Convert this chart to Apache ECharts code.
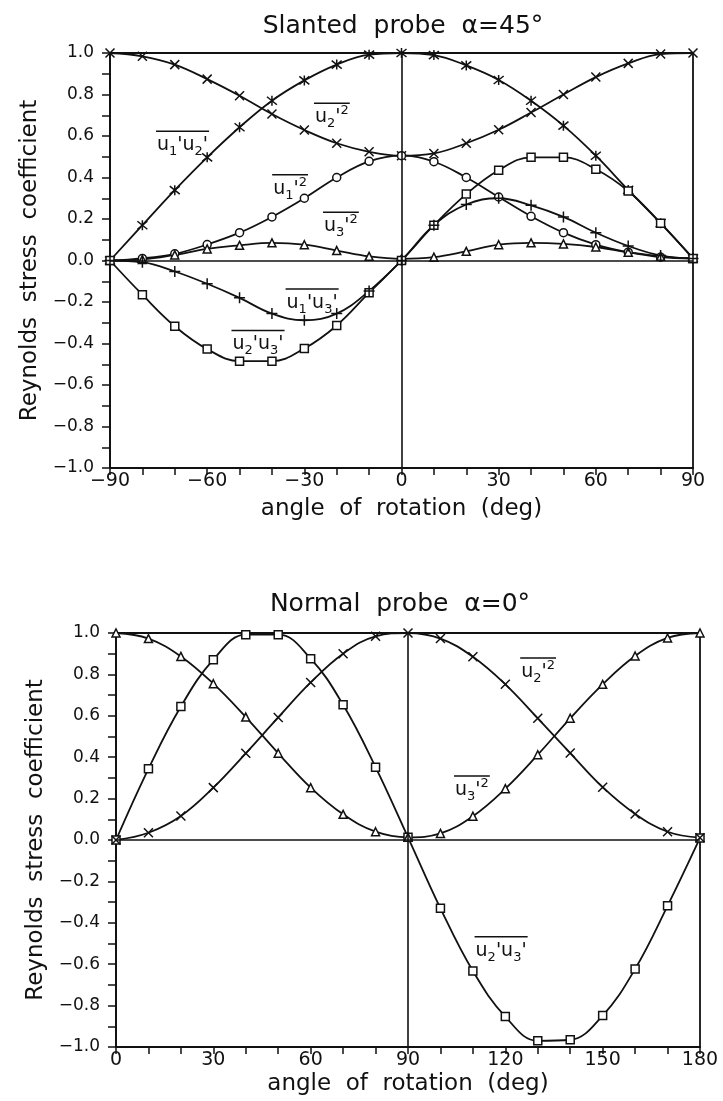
<!DOCTYPE html>
<html><head><meta charset="utf-8">
<script src="https://cdn.jsdelivr.net/npm/echarts@6/dist/echarts.min.js"></script>
<style>html,body{margin:0;padding:0;background:#fff}#c{width:723px;height:1101px}</style>
</head><body><div id="c"></div>
<script>
// ---------- data ----------
const topAngles = [-90,-80,-70,-60,-50,-40,-30,-20,-10,0,10,20,30,40,50,60,70,80,90];
const topCross    = [1.0,0.984,0.944,0.874,0.794,0.706,0.629,0.565,0.524,0.505,0.516,0.565,0.63,0.713,0.80,0.884,0.95,0.995,1.0];
const topStar     = [0.0,0.17,0.339,0.497,0.642,0.77,0.868,0.944,0.992,1.0,0.99,0.94,0.87,0.77,0.65,0.505,0.34,0.18,0.01];
const topCircle   = [0.0,0.01,0.032,0.077,0.134,0.21,0.30,0.40,0.478,0.505,0.476,0.40,0.306,0.213,0.134,0.076,0.04,0.016,0.01];
const topTriangle = [0.0,0.005,0.027,0.056,0.073,0.085,0.076,0.048,0.02,0.008,0.016,0.044,0.076,0.085,0.08,0.065,0.04,0.02,0.01];
const topSquare   = [0.0,-0.165,-0.317,-0.427,-0.485,-0.485,-0.424,-0.313,-0.155,0.0,0.17,0.32,0.435,0.497,0.497,0.44,0.335,0.18,0.01];
const topPlus     = [0.0,-0.008,-0.053,-0.112,-0.18,-0.256,-0.288,-0.256,-0.147,0.0,0.17,0.27,0.30,0.266,0.21,0.134,0.07,0.024,0.01];

const bottomAngles = [0,10,20,30,40,50,60,70,80,90,100,110,120,130,140,150,160,170,180];
const bottomSquare   = [0.0,0.344,0.645,0.871,0.992,0.992,0.876,0.653,0.352,0.013,-0.33,-0.633,-0.853,-0.97,-0.965,-0.848,-0.623,-0.318,0.01];
const bottomTriangle = [1.0,0.973,0.887,0.755,0.594,0.419,0.253,0.124,0.04,0.013,0.032,0.115,0.248,0.412,0.588,0.752,0.889,0.976,1.0];
const bottomCross    = [0.0,0.035,0.116,0.253,0.419,0.592,0.761,0.9,0.984,1.0,0.973,0.885,0.752,0.588,0.42,0.255,0.126,0.04,0.011];

const titles = ['Slanted  probe  α=45°', 'Normal  probe  α=0°'];
const xName = 'angle  of  rotation  (deg)';
const yName = 'Reynolds  stress  coefficient';

// curve labels: "_" = subscript, "^" = superscript; anchor in data coordinates
const topLabels = [
  {text: "u_1'u_2'", x: -67.6, y: 0.57},
  {text: "u_2'^2",   x: -21.5, y: 0.705},
  {text: "u_1'^2",   x: -34.4, y: 0.36},
  {text: "u_3'^2",   x: -18.7, y: 0.18},
  {text: "u_1'u_3'", x: -27.6, y: -0.19},
  {text: "u_2'u_3'", x: -44.3, y: -0.39}
];
const bottomLabels = [
  {text: "u_2'^2",   x: 130.1, y: 0.826},
  {text: "u_3'^2",   x: 109.7, y: 0.256},
  {text: "u_2'u_3'", x: 118.7, y: -0.52}
];

// ---------- styling ----------
const FONT = '"DejaVu Sans", "Liberation Sans", sans-serif';
const INK = '#111';
const SYM = {
  cross: 'path://M0,0L10,10M10,0L0,10',
  star:  'path://M1,1L9,9M9,1L1,9M5,0L5,10',
  plus:  'path://M5,0L5,10M0,5L10,5',
  circle: 'circle', rect: 'rect', triangle: 'triangle'
};
function minus(s){ return s.replace('-', '\u2212'); }

function mk(gi, xs, ys, sym, size, extra) {
  return Object.assign({
    type: 'line', xAxisIndex: gi, yAxisIndex: gi,
    data: xs.map((x, i) => [x, ys[i]]),
    smooth: 0.4, symbol: SYM[sym], symbolSize: size, showSymbol: true,
    lineStyle: {color: INK, width: 1.8},
    itemStyle: {color: '#fff', borderColor: INK, borderWidth: 1.5},
    emphasis: {disabled: true}, animation: false, z: 3
  }, extra || {});
}
const zeroLines = (xv) => ({
  silent: true, symbol: 'none', animation: false,
  label: {show: false},
  lineStyle: {color: INK, type: 'solid', width: 1.6},
  data: [{xAxis: xv}, {yAxis: 0}]
});

function xAxis(gi, min, max, gap) {
  return {
    type: 'value', gridIndex: gi, min: min, max: max, interval: 30,
    name: xName, nameLocation: 'middle', nameGap: gap,
    nameTextStyle: {fontFamily: FONT, fontSize: 23, color: INK},
    axisLine: {onZero: false, lineStyle: {color: INK, width: 1.8}},
    axisTick: {inside: false, length: 7, lineStyle: {color: INK, width: 1.5}},
    minorTick: {show: true, splitNumber: 3, length: 7, lineStyle: {color: INK, width: 1.5}},
    axisLabel: {margin: 4, fontFamily: FONT, fontSize: 19, color: INK, formatter: v => minus(String(v))},
    splitLine: {show: false}, minorSplitLine: {show: false}
  };
}
function yAxis(gi) {
  return {
    type: 'value', gridIndex: gi, min: -1, max: 1, interval: 0.2,
    name: yName, nameLocation: 'middle', nameGap: 67,
    nameTextStyle: {fontFamily: FONT, fontSize: 23, color: INK},
    axisLine: {onZero: false, lineStyle: {color: INK, width: 1.8}},
    axisTick: {inside: false, length: 8, lineStyle: {color: INK, width: 1.5}},
    minorTick: {show: true, splitNumber: 2, length: 8, lineStyle: {color: INK, width: 1.5}},
    axisLabel: {margin: 16, fontFamily: FONT, fontSize: 17, color: INK, formatter: v => minus(v.toFixed(1))},
    splitLine: {show: false}, minorSplitLine: {show: false}
  };
}

const chart = echarts.init(document.getElementById('c'), null, {renderer: 'canvas'});
chart.setOption({
  backgroundColor: '#fff',
  animation: false,
  title: [
    {text: titles[0], left: 403, top: 14, textAlign: 'center', padding: 0,
     textStyle: {fontFamily: FONT, fontSize: 25, fontWeight: 'normal', color: INK}},
    {text: titles[1], left: 400, top: 592, textAlign: 'center', padding: 0,
     textStyle: {fontFamily: FONT, fontSize: 25, fontWeight: 'normal', color: INK}}
  ],
  grid: [
    {left: 110, right: 30, top: 53, height: 415, show: true, borderColor: INK, borderWidth: 1.8, backgroundColor: 'transparent'},
    {left: 116, right: 23, top: 633, height: 414, show: true, borderColor: INK, borderWidth: 1.8, backgroundColor: 'transparent'}
  ],
  xAxis: [xAxis(0, -90, 90, 30), xAxis(1, 0, 180, 26)],
  yAxis: [yAxis(0), yAxis(1)],
  series: [
    mk(0, topAngles, topCross, 'cross', 9, {markLine: zeroLines(0)}),
    mk(0, topAngles, topStar, 'star', 10),
    mk(0, topAngles, topCircle, 'circle', 8),
    mk(0, topAngles, topTriangle, 'triangle', 8),
    mk(0, topAngles, topSquare, 'rect', 8),
    mk(0, topAngles, topPlus, 'plus', 11),
    mk(1, bottomAngles, bottomSquare, 'rect', 8, {markLine: zeroLines(90)}),
    mk(1, bottomAngles, bottomTriangle, 'triangle', 8),
    mk(1, bottomAngles, bottomCross, 'cross', 9)
  ]
});

// curve labels with overline, placed through the chart's coordinate system
const BASE = 19, SMALL = 13;
const ctx = document.createElement('canvas').getContext('2d');
function parseLabel(s) {
  let out = '', w = 0, buf = '';
  const flush = () => { if (buf) { out += '{b|' + buf + '}'; ctx.font = BASE + 'px "DejaVu Sans"'; w += ctx.measureText(buf).width; buf = ''; } };
  for (let i = 0; i < s.length; i++) {
    const c = s[i];
    if (c === '_' || c === '^') {
      flush();
      const ch = s[++i];
      out += '{' + (c === '_' ? 'sub' : 'sup') + '|' + ch + '}';
      ctx.font = SMALL + 'px "DejaVu Sans"'; w += ctx.measureText(ch).width;
    } else buf += c;
  }
  flush();
  return {rich: out, width: w};
}
const richStyles = {
  b:   {fontFamily: FONT, fontSize: BASE, lineHeight: 26, fill: INK, verticalAlign: 'middle'},
  sub: {fontFamily: FONT, fontSize: SMALL, lineHeight: 14, fill: INK, verticalAlign: 'bottom'},
  sup: {fontFamily: FONT, fontSize: SMALL, lineHeight: 14, fill: INK, verticalAlign: 'top'}
};
const graphics = [];
function addLabels(list, gi) {
  list.forEach(l => {
    const p = chart.convertToPixel({gridIndex: gi}, [l.x, l.y]);
    const t = parseLabel(l.text);
    graphics.push({type: 'text', x: p[0], y: p[1] + 3, z: 10,
      style: {text: t.rich, rich: richStyles, fill: INK, align: 'center', verticalAlign: 'middle'}});
    graphics.push({type: 'line', z: 10,
      shape: {x1: p[0] - t.width / 2 - 1, y1: p[1] - 11, x2: p[0] + t.width / 2 + 1, y2: p[1] - 11},
      style: {stroke: INK, lineWidth: 1.5}});
  });
}
addLabels(topLabels, 0);
addLabels(bottomLabels, 1);
chart.setOption({graphic: graphics});
</script>
</body></html>
